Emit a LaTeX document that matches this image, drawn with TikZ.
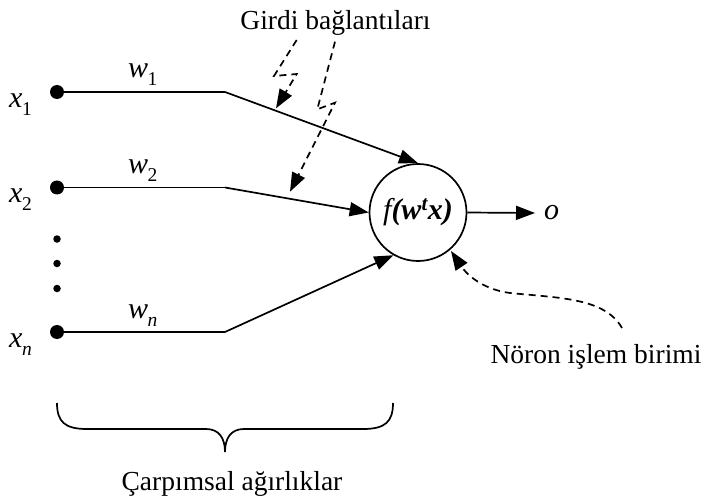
\documentclass[tikz,border=0pt]{standalone}
\usepackage{fontspec}
\setmainfont{Liberation Serif}
\usetikzlibrary{arrows.meta}
\newcommand{\mysb}[1]{\kern-0.5pt\raisebox{-8pt}{\fontsize{19.5}{20}\selectfont #1}}
\tikzset{
  txt/.style={font=\fontsize{27.5}{30}\selectfont, inner sep=0pt},
  lbl/.style={font=\fontsize{30}{32}\selectfont\itshape, inner sep=0pt, anchor=base west},
  bigdot/.style={circle, fill=black, minimum size=14pt, inner sep=0pt},
  smalldot/.style={circle, fill=black, minimum size=7.5pt, inner sep=0pt},
  wire/.style={line width=1.7pt},
  conn/.style={line width=1.7pt, -{Triangle[length=19pt,width=14pt]}},
  dconn/.style={line width=1.7pt, dash pattern=on 7pt off 5pt, -{Triangle[length=19pt,width=14pt]}},
  neuronstyle/.style={circle, draw, line width=1.7pt, minimum size=97pt, inner sep=0pt, font=\fontsize{30}{32}\selectfont},
}
\begin{document}
\begin{tikzpicture}[x=1pt,y=-1pt]
\useasboundingbox (0,0) rectangle (710,500);
% inputs
\node[bigdot] (i1) at (57,92) {};
\node[bigdot] (i2) at (57,187.5) {};
\node[smalldot] (d1) at (57,239) {};
\node[smalldot] (d2) at (57,263.5) {};
\node[smalldot] (d3) at (57,288.5) {};
\node[bigdot] (in) at (57,332) {};
\node[lbl] (lx1) at (9,108) {x\mysb{\upshape 1}};
\node[lbl] (lx2) at (9,203) {x\mysb{\upshape 2}};
\node[lbl] (lxn) at (9,347) {x\mysb{n}};
\node[lbl] (lw1) at (128,78) {w\mysb{\upshape 1}};
\node[lbl] (lw2) at (128,173.5) {w\mysb{\upshape 2}};
\node[lbl] (lwn) at (128,318) {w\mysb{n}};
% bends
\coordinate (b1) at (225,92);
\coordinate (b2) at (225,187.5);
\coordinate (bn) at (225,332);
% neuron
\node[neuronstyle] (neuron) at (418,212.5) {\itshape f{\bfseries(w\textsuperscript{t}x)}};
\node[lbl, anchor=west] (out) at (544,213) {o};
\draw[wire] (i1) -- (b1);
\draw[wire] (i2) -- (b2);
\draw[wire] (in) -- (bn);
\draw[conn] (b1) -- (neuron.north);
\draw[conn] (b2) -- (neuron.west);
\draw[conn] (bn) -- (neuron.240);
\draw[conn] (neuron.east) -- ([xshift=-9pt]out.west);
% texts
\node[txt, anchor=base] (girdi) at (335.5,30) {Girdi bağlantıları};
\node[txt, anchor=base] (noron) at (596,363) {Nöron işlem birimi};
\node[txt, anchor=base] (carp) at (232,490) {Çarpımsal ağırlıklar};
% dashed pointers
\coordinate (ga) at (296.7,40);
\coordinate (gb) at (335,41.7);
\coordinate (nc) at (622,328);
\draw[dconn] (ga) -- (274,76) -- (296.7,74) -- (276,108.3);
\draw[dconn] (gb) -- (317.3,109.3) -- (335,102.7) -- (290,191.7);
\draw[dconn] (nc) .. controls (605,298) and (560,298) .. (510,293) .. controls (480,289) and (465,272) .. (451,251);
% brace
\coordinate (bl) at (57,403);
\coordinate (br) at (393,403);
\coordinate (bt) at (225,452);
\draw[line width=1.7pt] (bl) .. controls (57,422) and (65,429) .. (87,429) -- (206,429) .. controls (219,429) and (225,438) .. (bt) .. controls (225,438) and (231,429) .. (244,429) -- (363,429) .. controls (385,429) and (393,422) .. (br);
\end{tikzpicture}
\end{document}
